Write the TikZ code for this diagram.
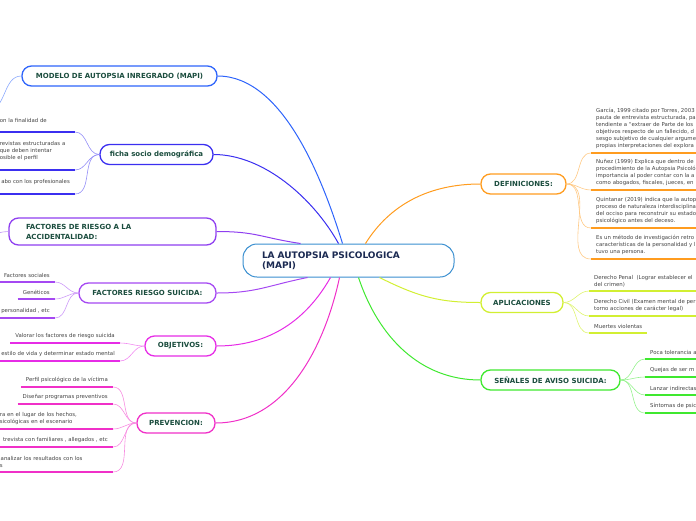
\documentclass[tikz,border=0pt]{standalone}
\usepackage{fontspec}
\setmainfont{DejaVu Sans}
\definecolor{mainblue}{HTML}{3A8FD0}
\definecolor{mainink}{HTML}{1B2A52}
\definecolor{topicink}{HTML}{1B4D3E}
\definecolor{leafink}{HTML}{444444}
\definecolor{cBlue}{HTML}{2E64FB}
\definecolor{cIndigo}{HTML}{3B2FF0}
\definecolor{cViolet}{HTML}{8F3FF0}
\definecolor{cPurple}{HTML}{A548F2}
\definecolor{cMagenta}{HTML}{E62CE6}
\definecolor{cPink}{HTML}{F030C8}
\definecolor{cOrange}{HTML}{FF9C1F}
\definecolor{cLime}{HTML}{D2EF32}
\definecolor{cGreen}{HTML}{3FE82F}

\begin{document}
\begin{tikzpicture}[x=1pt,y=-1pt,
        main node/.style={draw=mainblue,fill=white,rounded corners=14pt,line width=1pt,minimum width=211pt,minimum height=33pt,inner xsep=19pt,text width=173pt,align=left,font=\fontsize{9}{10.5}\selectfont\bfseries,text=mainink},
        topic/.style={draw=#1,fill=white,rounded corners=9.5pt,line width=1.3pt,minimum height=20pt,font=\fontsize{7}{10}\selectfont\bfseries,text=topicink},
        leaf/.style={align=left,inner xsep=5pt,inner ysep=4pt,font=\fontsize{5.4}{7}\selectfont,text=leafink},
        uline/.style={line width=1.8pt,draw=#1},
        twig/.style={line width=0.6pt,draw=#1},
        branch/.style={line width=1pt,draw=#1}]
    \useasboundingbox (0,0) rectangle (696,520);

    % central idea
    \node [main node] (main) at (348.5,260.5) {LA AUTOPSIA PSICOLOGICA\\(MAPI)};

    % topics
    \node [topic=cBlue,minimum width=195pt] (modelo) at (119.5,76) {MODELO DE AUTOPSIA INREGRADO (MAPI)};
    \node [topic=cIndigo,minimum width=113pt] (ficha) at (156.5,154.5) {ficha socio demográfica};
    \node [topic=cViolet,minimum width=207pt,minimum height=27pt,inner xsep=17pt,text width=173pt,align=left] (accid) at (112.5,231.5) {FACTORES DE RIESGO A LA\\ACCIDENTALIDAD:};
    \node [topic=cPurple,minimum width=137pt] (suicida) at (147.5,293) {FACTORES RIESGO SUICIDA:};
    \node [topic=cMagenta,minimum width=71pt] (objetivos) at (180.5,346) {OBJETIVOS:};
    \node [topic=cPink,minimum width=78pt] (prevencion) at (176,423) {PREVENCION:};
    \node [topic=cOrange,minimum width=85pt] (defin) at (523.5,184) {DEFINICIONES:};
    \node [topic=cLime,minimum width=82pt] (aplic) at (522,302.5) {APLICACIONES};
    \node [topic=cGreen,minimum width=139pt] (senales) at (550.5,380) {SEÑALES DE AVISO SUICIDA:};

    % where the branches meet the central idea
    \coordinate (mt1) at ([xshift=-6pt]main.north);
    \coordinate (mt2) at ([xshift=-10pt]main.north);
    \coordinate (mt3) at ([xshift=-48pt]main.north);
    \coordinate (mt4) at ([xshift=17pt]main.north);
    \coordinate (mb1) at ([xshift=-41pt]main.south);
    \coordinate (mb2) at ([xshift=-18pt]main.south);
    \coordinate (mb3) at ([xshift=-9pt]main.south);
    \coordinate (mb4) at ([xshift=10pt]main.south);
    \coordinate (mb5) at ([xshift=31pt]main.south);

    \draw [branch=cBlue] (modelo.east) .. controls +(65,0) and +(-20,-65) .. (mt1);
    \draw [branch=cIndigo] (ficha.east) .. controls +(50,0) and +(-25,-45) .. (mt2);
    \draw [branch=cViolet] (accid.east) .. controls +(40,0) and +(-40,-6) .. (mt3);
    \draw [branch=cPurple] (suicida.east) .. controls +(40,0) and +(-40,8) .. (mb1);
    \draw [branch=cMagenta] (objetivos.east) .. controls +(60,0) and +(-20,35) .. (mb2);
    \draw [branch=cPink] (prevencion.east) .. controls +(70,0) and +(-15,70) .. (mb3);
    \draw [branch=cOrange] (mt4) .. controls +(25,-40) and +(-50,0) .. (defin.west);
    \draw [branch=cLime] (mb5) .. controls +(40,20) and +(-40,0) .. (aplic.west);
    \draw [branch=cGreen] (mb4) .. controls +(20,60) and +(-60,0) .. (senales.west);

    % leaves going off the page
    \coordinate (ml) at (-12,110);
    \coordinate (al) at (-10,234);
    \draw [twig=cBlue!55] (modelo.west) to [out=180,in=0] (ml);
    \draw [twig=cViolet!55] (accid.west) to [out=180,in=0] (al);

    % ficha socio demografica
    \node [leaf,anchor=south east,text width=70pt,inner ysep=9.5pt] (fs1) at (75,132) {on la finalidad de};
    \node [leaf,anchor=south east,text width=70pt,inner ysep=9.5pt] (fs2) at (75,170) {revistas estructuradas a\\ que deben intentar\\osible el perfil};
    \node [leaf,anchor=south east,inner ysep=9.5pt] (fs3) at (75,194) {abo con los profesionales};
    \foreach \n in {fs1,fs2,fs3} {
        \draw [twig=cIndigo!55] (ficha.west) to [out=180,in=0] (\n.south east);
        \draw [uline=cIndigo] (\n.south west) -- (\n.south east);
    }

    % factores riesgo suicida
    \node [leaf,anchor=south east] (rs1) at (55,282) {Factores sociales};
    \node [leaf,anchor=south east] (rs2) at (55,299) {Genéticos};
    \node [leaf,anchor=south east] (rs3) at (55,318) {personalidad , etc};
    \foreach \n in {rs1,rs2,rs3} {
        \draw [twig=cPurple!55] (suicida.west) to [out=180,in=0] (\n.south east);
        \draw [uline=cPurple] (\n.south west) -- (\n.south east);
    }

    % objetivos
    \node [leaf,anchor=south east] (ob1) at (120,343) {Valorar los factores de riesgo suicida};
    \node [leaf,anchor=south east] (ob2) at (120,361) {estilo de vida y determinar estado mental};
    \foreach \n in {ob1,ob2} {
        \draw [twig=cMagenta!55] (objetivos.west) to [out=180,in=0] (\n.south east);
        \draw [uline=cMagenta] (\n.south west) -- (\n.south east);
    }

    % prevencion
    \node [leaf,anchor=south east] (pv1) at (113,387) {Perfil psicológico de la víctima};
    \node [leaf,anchor=south east] (pv2) at (113,404) {Diseñar programas preventivos};
    \node [leaf,anchor=south east,text width=108pt] (pv3) at (113,429) {ra en el lugar de los hechos,\\sicológicas en el escenario};
    \node [leaf,anchor=south east] (pv4) at (113,447) {trevista con familiares , allegados , etc};
    \node [leaf,anchor=south east,text width=108pt] (pv5) at (113,472) {\,analizar los resultados con los\\s};
    \foreach \n in {pv1,pv2,pv3,pv4,pv5} {
        \draw [twig=cPink!55] (prevencion.west) to [out=180,in=0] (\n.south east);
        \draw [uline=cPink] (\n.south west) -- (\n.south east);
    }

    % definiciones
    \node [leaf,anchor=south west] (df1) at (591,153) {García, 1999 citado por Torres, 2003\\pauta de entrevista estructurada, pa\\tendiente a “extraer de Parte de los\\objetivos respecto de un fallecido, d\\sesgo subjetivo de cualquier argume\\propias interpretaciones del explora};
    \node [leaf,anchor=south west] (df2) at (591,190) {Nuñez (1999) Explica que dentro de\\procedimiento de la Autopsia Psicoló\\importancia al poder contar con la a\\como abogados, fiscales, jueces, en};
    \node [leaf,anchor=south west] (df3) at (591,228) {Quintanar (2019) indica que la autop\\proceso de naturaleza interdisciplina\\del occiso para reconstruir su estado\\psicológico antes del deceso.};
    \node [leaf,anchor=south west] (df4) at (591,259) {Es un método de investigación retro\\características de la personalidad y l\\tuvo una persona.};
    \foreach \n in {df1,df2,df3,df4} {
        \draw [twig=cOrange!55] (defin.east) to [out=0,in=180] (\n.south west);
        \draw [uline=cOrange] (\n.south west) -- (\n.south east);
    }

    % aplicaciones
    \node [leaf,anchor=south west] (ap1) at (589,291) {Derecho Penal\ \ (Lograr establecer el\\del crimen)};
    \node [leaf,anchor=south west] (ap2) at (589,316) {Derecho Civil (Examen mental de per\\torno acciones de carácter legal)};
    \node [leaf,anchor=south west] (ap3) at (589,333) {Muertes violentas};
    \foreach \n in {ap1,ap2,ap3} {
        \draw [twig=cLime!70] (aplic.east) to [out=0,in=180] (\n.south west);
        \draw [uline=cLime] (\n.south west) -- (\n.south east);
    }

    % senales de aviso suicida
    \node [leaf,anchor=south west] (sn1) at (645,359) {Poca tolerancia a};
    \node [leaf,anchor=south west] (sn2) at (645,377) {Quejas de ser m};
    \node [leaf,anchor=south west] (sn3) at (645,395) {Lanzar indirectas};
    \node [leaf,anchor=south west] (sn4) at (645,413) {Síntomas de psic};
    \foreach \n in {sn1,sn2,sn3,sn4} {
        \draw [twig=cGreen!55] (senales.east) to [out=0,in=180] (\n.south west);
        \draw [uline=cGreen] (\n.south west) -- (\n.south east);
    }
\end{tikzpicture}
\end{document}
